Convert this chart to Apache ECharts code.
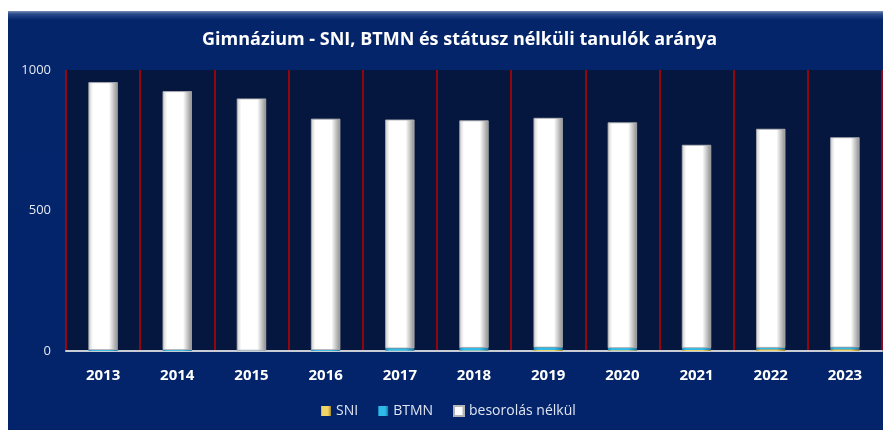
<!DOCTYPE html>
<html>
<head>
<meta charset="utf-8">
<script src="https://cdn.jsdelivr.net/npm/echarts@6/dist/echarts.min.js"></script>
<style>
  html, body { margin: 0; padding: 0; background: #ffffff; }
  #wrap {
    position: absolute; left: 8px; top: 11px; width: 875px; height: 419px;
    background: linear-gradient(to bottom, #7d8fb5 0px, #2a4a8c 3px, #05256b 9px, #03246a 100%);
  }
  #chart { position: absolute; left: 0; top: 0; width: 875px; height: 419px; }
</style>
</head>
<body>
<div id="wrap"><div id="chart"></div></div>
<script>
const years = ["2013", "2014", "2015", "2016", "2017", "2018", "2019", "2020", "2021", "2022", "2023"];
const sni = [0, 0, 0, 0, 1, 2, 4, 3, 4, 6, 6];
const btmn = [4, 4, 2, 4, 9, 10, 9, 8, 7, 6, 7];
const nelkul = [952, 920, 896, 822, 813, 808, 816, 802, 722, 778, 747];

const chart = echarts.init(document.querySelector("#chart"));

function shade(light, mid, dark) {
  return new echarts.graphic.LinearGradient(0, 0, 1, 0, [
    { offset: 0, color: light },
    { offset: 0.15, color: mid },
    { offset: 0.7, color: mid },
    { offset: 1, color: dark },
  ]);
}

const font = "'Open Sans', 'DejaVu Sans', sans-serif";

chart.setOption({
  backgroundColor: "transparent",
  textStyle: { fontFamily: font },
  title: {
    text: "Gimnázium - SNI, BTMN és státusz nélküli tanulók aránya",
    left: 189,
    top: 15,
    textStyle: { color: "#ffffff", fontSize: 18, fontWeight: "bold", fontFamily: font },
  },
  legend: {
    bottom: 7,
    left: 308,
    icon: "rect",
    itemWidth: 10,
    itemHeight: 10,
    itemGap: 20,
    textStyle: { color: "#dfe5f2", fontSize: 14, fontFamily: font },
    data: ["SNI", "BTMN", "besorolás nélkül"],
  },
  grid: {
    left: 58, right: 1, top: 59, bottom: 79,
    show: true, backgroundColor: "#06173f", borderWidth: 0,
  },
  xAxis: {
    type: "category",
    data: years,
    axisLine: { lineStyle: { color: "#c8ccd4", width: 2 } },
    axisTick: { show: false },
    splitLine: { show: true, interval: 0, lineStyle: { color: "#c00000", width: 1.5 } },
    axisLabel: { color: "#ffffff", fontSize: 15, fontWeight: "bold", margin: 17, fontFamily: font },
  },
  yAxis: {
    type: "value",
    min: 0, max: 1000, interval: 500,
    axisLine: { show: false },
    axisTick: { show: false },
    splitLine: { show: false },
    axisLabel: { color: "#e4e8f0", fontSize: 13, margin: 15, fontFamily: font, formatter: (v) => String(v) },
  },
  series: [
    {
      name: "SNI", type: "bar", stack: "t", barWidth: 29, data: sni,
      itemStyle: { color: shade("#c9a63a", "#f0d468", "#a8852a") },
    },
    {
      name: "BTMN", type: "bar", stack: "t", data: btmn,
      itemStyle: { color: shade("#1a8fc0", "#2fbbe8", "#1679a3") },
    },
    {
      name: "besorolás nélkül", type: "bar", stack: "t", data: nelkul,
      itemStyle: {
        color: shade("#cfcfcf", "#ffffff", "#8e8e8e"),
        borderColor: "#b5b5b5", borderWidth: 0.5,
      },
    },
  ],
});
</script>
</body>
</html>
